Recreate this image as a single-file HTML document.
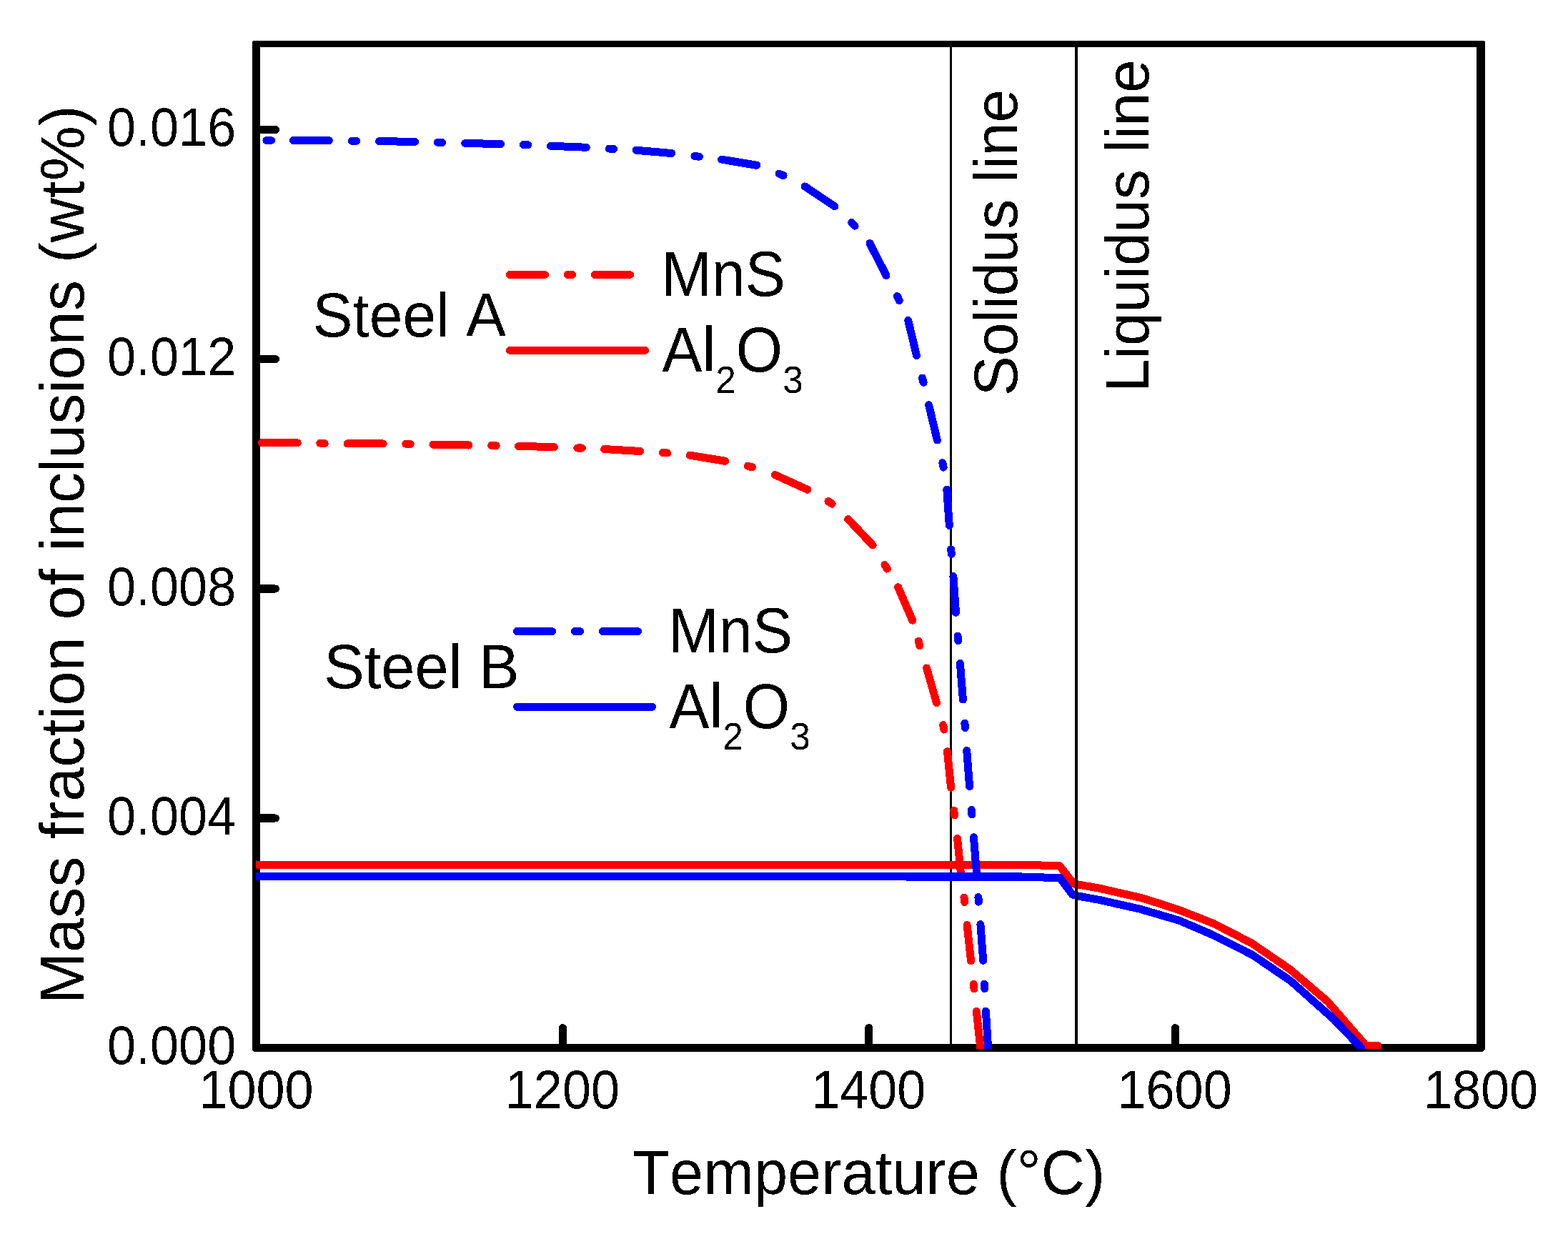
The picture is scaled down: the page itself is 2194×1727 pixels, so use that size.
<!DOCTYPE html>
<html lang="en"><head><meta charset="utf-8">
<title>Mass fraction of inclusions vs temperature</title>
<style>
html,body{margin:0;padding:0;background:#fff;}
body{width:2194px;height:1727px;overflow:hidden;}
svg{display:block;}
text{font-family:"Liberation Sans",Arial,Helvetica,sans-serif;fill:#000;font-kerning:none;}
.ax{fill:#000;}
.c{fill:none;stroke-width:11;stroke-linejoin:round;}
.dd{stroke-dasharray:50 32 6 32;stroke-linecap:round;}
</style></head><body>
<svg width="2194" height="1727" viewBox="0 0 2194 1727" role="img" aria-label="Mass fraction of inclusions versus temperature for Steel A and Steel B">
<defs><clipPath id="plot"><rect x="358.5" y="61" width="1714" height="1407"/></clipPath>
<filter id="crisp" filterUnits="userSpaceOnUse" x="0" y="0" width="2194" height="1727" color-interpolation-filters="sRGB">
<feComponentTransfer><feFuncR type="discrete" tableValues="0 1"/><feFuncG type="discrete" tableValues="0 1"/><feFuncB type="discrete" tableValues="0 1"/></feComponentTransfer>
</filter></defs>
<g filter="url(#crisp)">
<rect x="0" y="0" width="2194" height="1727" fill="#fff"/>
<g class="ax" id="frame">
<rect x="354" y="57" width="1723" height="9"/>
<rect x="353" y="58" width="11" height="1411"/>
<rect x="2066" y="58" width="12" height="1411"/>
<path d="M353 1461H2078V1467L2075 1472H356L353 1469Z"/>
</g>
<g id="ticks" fill="none" stroke="#000" stroke-width="11" stroke-linecap="round">
<line x1="360" y1="1145.1" x2="385.5" y2="1145.1"/>
<line x1="360" y1="823.9" x2="385.5" y2="823.9"/>
<line x1="360" y1="502.7" x2="385.5" y2="502.7"/>
<line x1="360" y1="181.5" x2="385.5" y2="181.5"/>
<line x1="787.4" y1="1466" x2="787.4" y2="1438.5"/>
<line x1="1215.8" y1="1466" x2="1215.8" y2="1438.5"/>
<line x1="1644.4" y1="1466" x2="1644.4" y2="1438.5"/>
</g>
<rect class="ax" x="1329" y="62" width="3" height="1400"/>
<g clip-path="url(#plot)">
<path class="c" stroke-linecap="round" stroke="#ff0000" d="M366.2 619.6L416.2 619.7M447.8 620.3L454.2 620.5M486.2 620.8L536.2 620.9M567.8 621.2L574.2 621.4M605.9 622.2L655.8 623.1M687.8 623.5L694.2 623.7M725.5 624.5L775.4 625.6M807.9 626.9L814.3 627.1M845.6 628.5L895.6 631.6M927.3 633.5L933.7 634.1M965.3 637.1L1014.7 645.3M1046.3 652.1L1052.5 653.9M1084.2 664.6L1130.0 685.2M1158.9 701.5L1164.1 705.3M1186.6 726.5L1221.2 763.1M1237.9 790.5L1241.3 796.1M1256.6 821.8L1276.8 868.2M1285.1 897.2L1286.9 903.6M1296.5 934.9L1310.5 983.6M1319.5 1014.6L1320.9 1021.0M1325.5 1051.7L1330.6 1102.2M1334.8 1134.3L1335.6 1140.9M1339.5 1173.2L1344.6 1223.8M1348.9 1256.0L1349.7 1262.6M1353.1 1294.4L1358.6 1344.9M1362.2 1377.3L1363.0 1383.9M1366.3 1415.1L1372.8 1476.0"/>
<polyline class="c" stroke-linecap="round" stroke="#ff0000" points="350.0,1210.1 1430.0,1210.3 1482.7,1211.8 1502.5,1237.0 1508.3,1238.0 1538.2,1243.1 1595.9,1256.3 1630.4,1267.1 1650.0,1273.7 1698.0,1292.3 1751.5,1320.0 1805.0,1356.6 1857.5,1401.5 1911.3,1463.4 1928.0,1463.4"/>
<path class="c" stroke-linecap="round" stroke="#0000ff" d="M372.9 196.4L379.4 196.4M410.4 196.5L460.3 196.6M492.3 197.2L498.7 197.2M530.6 197.6L580.5 198.4M612.3 199.2L618.7 199.4M650.7 200.4L700.7 201.6M732.3 202.5L738.7 202.7M770.4 204.3L820.3 206.3M852.3 208.1L858.7 208.5M890.0 210.2L939.8 214.4M971.9 218.4L978.3 219.2M1009.5 223.1L1058.9 231.2M1090.1 243.0L1096.1 245.6M1126.1 260.9L1167.9 288.8M1191.7 311.5L1196.1 316.3M1217.0 340.5L1240.0 385.6M1255.5 414.6L1258.3 420.6M1270.7 448.4L1282.5 497.7M1290.5 528.9L1292.1 535.3M1299.6 566.7L1311.4 616.0M1318.9 647.7L1320.1 654.1M1324.8 685.0L1328.3 735.7M1330.7 768.8L1331.3 775.4M1333.9 806.7L1337.5 857.3M1340.1 890.2L1340.7 896.8M1343.4 928.4L1347.4 979.1M1349.9 1011.9L1350.3 1018.5M1352.7 1050.3L1356.6 1100.9M1359.3 1133.4L1359.9 1140.0M1362.4 1171.8L1366.5 1222.3M1368.9 1255.6L1369.3 1262.2M1371.9 1293.7L1375.7 1344.3M1377.4 1377.1L1377.8 1383.7M1379.4 1415.0L1383.2 1476.0"/>
<polyline class="c" stroke-linecap="round" stroke="#0000ff" points="350.0,1226.5 1430.0,1227.0 1483.2,1228.8 1500.5,1252.0 1508.3,1254.0 1538.2,1259.4 1595.9,1272.4 1650.0,1288.3 1696.9,1308.4 1751.9,1336.0 1805.6,1372.5 1866.5,1426.7 1904.7,1466.5"/>
</g>
<rect class="ax" x="1504" y="62" width="4" height="1400"/>
<g class="c" stroke-linecap="round">
<line class="dd" style="stroke-dasharray:49 31.7 6.5 31.7" stroke="#ff0000" x1="713.5" y1="384.4" x2="883" y2="384.4"/>
<line stroke="#ff0000" x1="713.5" y1="490.4" x2="902.5" y2="490.4"/>
<line class="dd" style="stroke-dasharray:49 32 7 32" stroke="#0000ff" x1="723.5" y1="883.5" x2="893" y2="883.5"/>
<line stroke="#0000ff" x1="723.5" y1="989.2" x2="912.5" y2="989.2"/>
</g>
<g id="ticklabels">
<text transform="translate(330.20 1488.90) scale(1 1.0556)" font-size="72.00" text-anchor="end">0.000</text>
<text transform="translate(330.20 1167.70) scale(1 1.0556)" font-size="72.00" text-anchor="end">0.004</text>
<text transform="translate(330.20 846.50) scale(1 1.0556)" font-size="72.00" text-anchor="end">0.008</text>
<text transform="translate(330.20 525.30) scale(1 1.0556)" font-size="72.00" text-anchor="end">0.012</text>
<text transform="translate(330.20 204.10) scale(1 1.0556)" font-size="72.00" text-anchor="end">0.016</text>
<text transform="translate(358.50 1551.00) scale(1 1.0556)" font-size="72.00" text-anchor="middle">1000</text>
<text transform="translate(786.88 1551.00) scale(1 1.0556)" font-size="72.00" text-anchor="middle">1200</text>
<text transform="translate(1215.25 1551.00) scale(1 1.0556)" font-size="72.00" text-anchor="middle">1400</text>
<text transform="translate(1643.62 1551.00) scale(1 1.0556)" font-size="72.00" text-anchor="middle">1600</text>
<text transform="translate(2072.00 1551.00) scale(1 1.0556)" font-size="72.00" text-anchor="middle">1800</text>
</g>
<text transform="translate(885.20 1671.00) scale(1 1.0193)" font-size="84.86">Temperature (°C)</text>
<text transform="translate(117.00 1404.90) rotate(-90) scale(1 1.0015)" font-size="86.37">Mass fraction of inclusions (wt%)</text>
<text transform="translate(1423.40 554.20) rotate(-90) scale(1 1.0182)" font-size="83.97">Solidus line</text>
<text transform="translate(1607.00 549.10) rotate(-90) scale(1 1.0203)" font-size="83.80">Liquidus line</text>
<text transform="translate(437.40 471.00) scale(1 1.0339)" font-size="83.95">Steel A</text>
<text transform="translate(925.50 413.90) scale(1 1.0486)" font-size="84.40">MnS</text>
<text transform="translate(926.60 519.90) scale(1 1.0536)" font-size="84.00">Al<tspan font-size="51.4" dy="28.5">2</tspan><tspan dy="-28.5" dx="0">O</tspan><tspan font-size="51.4" dy="28.5">3</tspan></text>
<text transform="translate(453.25 962.90) scale(1 1.0236)" font-size="84.80">Steel B</text>
<text transform="translate(935.50 913.10) scale(1 1.0486)" font-size="84.40">MnS</text>
<text transform="translate(936.60 1019.10) scale(1 1.0536)" font-size="84.00">Al<tspan font-size="51.4" dy="28.5">2</tspan><tspan dy="-28.5" dx="0">O</tspan><tspan font-size="51.4" dy="28.5">3</tspan></text>
</g>
</svg>
</body></html>
